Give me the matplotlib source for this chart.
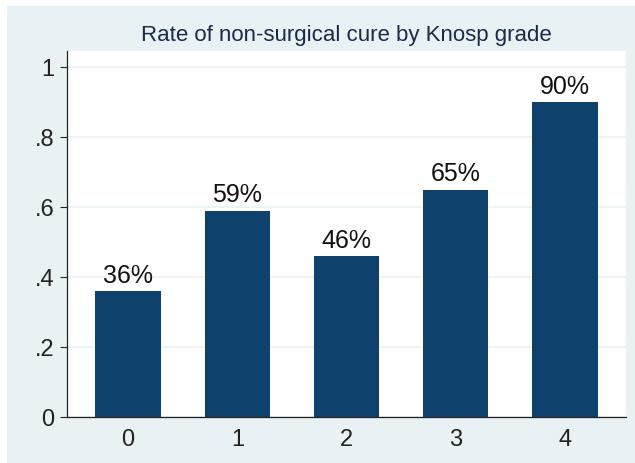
import matplotlib.pyplot as plt
from matplotlib.patches import Rectangle

# ===== 数据 =====
grades = [0, 1, 2, 3, 4]
rates = [0.36, 0.59, 0.46, 0.65, 0.90]
labels = ['36%', '59%', '46%', '65%', '90%']
yticks = [0, 0.2, 0.4, 0.6, 0.8, 1.0]
yticklabels = ['0', '.2', '.4', '.6', '.8', '1']

plt.rcParams['font.family'] = ['Liberation Sans', 'DejaVu Sans']

bg = '#e8f1f3'
navy = '#0e426c'

fig = plt.figure(figsize=(6.35, 4.63), dpi=100)
fig.patch.set_facecolor('white')
# 背景区域 (Stata graph region)
fig.patches.append(Rectangle((7/635, 0), 1, (463-6)/463, transform=fig.transFigure,
                             facecolor=bg, edgecolor='none', zorder=-10))

ax = fig.add_axes([67/635, 46/463, (626-67)/635, (417-51)/463])
ax.set_facecolor('white')

ax.bar(grades, rates, width=0.6, color=navy, zorder=3)
for x, v, t in zip(grades, rates, labels):
    ax.text(x, v + 0.024, t, ha='center', va='baseline', fontsize=18, color='#111111')

ax.set_xlim(-0.56, 4.56)
ax.set_ylim(0, 1.046)
ax.set_yticks(yticks)
ax.set_yticklabels(yticklabels)
ax.set_xticks(grades)
ax.tick_params(axis='y', labelsize=17, length=5, width=0.8, pad=4, colors='#222222')
ax.tick_params(axis='x', labelsize=17, length=0, pad=9, colors='#222222')
ax.grid(axis='y', color=bg, linewidth=1.2, zorder=1)
ax.set_axisbelow(True)
for s in ['top', 'right']:
    ax.spines[s].set_visible(False)
for s in ['left', 'bottom']:
    ax.spines[s].set_color('#222222')
    ax.spines[s].set_linewidth(0.9)

fig.text((67+626)/2/635, 1 - 36/463, 'Rate of non-surgical cure by Knosp grade',
         ha='center', va='center', fontsize=16, color='#1c2a4a')

plt.savefig('out.png', dpi=100, facecolor=fig.get_facecolor())
